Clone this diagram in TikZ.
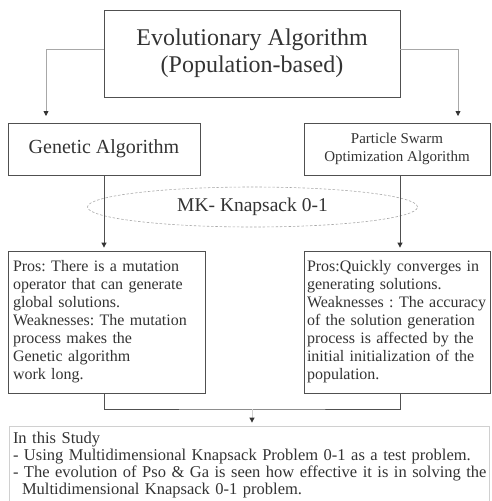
\documentclass[tikz,border=0pt]{standalone}
\usepackage{fontspec}
\setmainfont{Liberation Serif}
\usetikzlibrary{shapes.geometric,arrows.meta}
\definecolor{boxgray}{HTML}{505050}
\definecolor{lightline}{HTML}{A8A8A8}
\definecolor{paleline}{HTML}{D0D0D0}
\definecolor{txt}{HTML}{333333}
\definecolor{tipc}{HTML}{333333}
\frenchspacing
\begin{document}
\begin{tikzpicture}[x=1pt,y=-1pt,
  box/.style={draw=boxgray, line width=0.8pt, text=txt, inner sep=0pt, align=center},
  tbox/.style={draw=boxgray, line width=0.8pt, text=txt, inner xsep=5pt, inner ysep=0pt, align=left},
  arr/.style={-{Triangle[length=5pt,width=5pt,color=tipc]}, line width=0.8pt},
  lightarr/.style={arr, draw=lightline},
  darkarr/.style={arr, draw=boxgray},
  link/.style={draw=boxgray, line width=0.8pt},
  bigfont/.style={font=\fontsize{24}{27}\selectfont},
  midfont/.style={font=\fontsize{20}{23}\selectfont},
  smallfont/.style={font=\fontsize{15}{18}\selectfont},
  bodyfont/.style={font=\fontsize{16}{18}\selectfont\frenchspacing}
]
\useasboundingbox (0,0) rectangle (491,501);

\node[box, bigfont, minimum width=296pt, minimum height=87pt] (top) at (252,53.5)
  {Evolutionary Algorithm\\(Population-based)};

\node[box, midfont, minimum width=192pt, minimum height=52pt] (ga) at (104,149)
  {Genetic Algorithm};
\node[box, smallfont, minimum width=186pt, minimum height=52pt] (pso) at (397,149)
  {Particle Swarm\\Optimization Algorithm};

\node[ellipse, draw=lightline, dash pattern=on 2.5pt off 1.8pt, line width=0.6pt,
  minimum width=330pt, minimum height=40pt, text=txt, font=\fontsize{19.5}{22}\selectfont,
  inner sep=0pt] (mk) at (252.5,207) {MK- Knapsack 0-1};

\node[tbox, bodyfont, minimum width=197pt, minimum height=142pt, text width=187pt] (lb) at (106.5,322)
  {Pros: There is a mutation\\operator that can generate\\global solutions.\\Weaknesses: The mutation\\process makes the\\Genetic algorithm\\work long.};
\node[tbox, bodyfont, inner xsep=3pt, minimum width=186pt, minimum height=142pt, text width=180pt] (rb) at (397,322)
  {Pros:Quickly converges in\\generating solutions.\\Weaknesses : The accuracy\\of the solution generation\\process is affected by the\\initial initialization of the\\population.};

\node[tbox, draw=paleline, font=\fontsize{16.5}{16.8}\selectfont\frenchspacing, inner xsep=4pt, minimum width=480pt, minimum height=78pt, text width=472pt] (fin) at (249,465)
  {\mbox{In this Study}\\\mbox{- Using Multidimensional Knapsack Problem 0-1 as a test problem.}\\\mbox{- The evolution of Pso \& Ga is seen how effective it is in solving the}\\\mbox{\hspace*{0.55em}Multidimensional Knapsack 0-1 problem.}};

% connectors from the top box
\coordinate (gain) at (46,116);
\coordinate (psoin) at (458,116);
\draw[lightarr] ([yshift=4.5pt]top.west) -| (gain);
\draw[lightarr] ([yshift=4.5pt]top.east) -| (psoin);

% down through the ellipse
\draw[darkarr, shorten >=3pt] (ga.south) -- (ga.south |- lb.north);
\draw[darkarr, shorten >=3pt] ([xshift=3pt]pso.south) -- ([xshift=3pt]pso.south |- rb.north);

% bracket joining the two boxes
\coordinate (mid) at (252,409);
\draw[link] (ga.south |- lb.south) |- (mid) -| ([xshift=3pt]pso.south |- rb.south);
\draw[arr, draw=paleline, shorten >=3pt] (mid) -- (mid |- fin.north);
\end{tikzpicture}
\end{document}
